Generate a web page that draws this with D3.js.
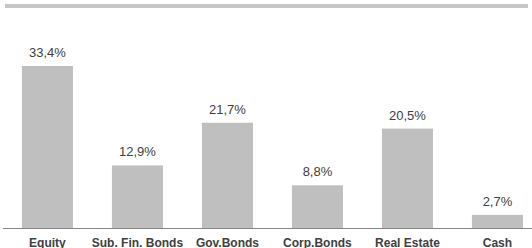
<!DOCTYPE html>
<html>
<head>
<meta charset="utf-8">
<script src="https://cdn.jsdelivr.net/npm/d3@7"></script>
<style>
  html, body { margin: 0; padding: 0; background: #fff; }
  svg { display: block; }
</style>
</head>
<body>
<div id="chart"></div>
<script>
var categories = ["Equity", "Sub. Fin. Bonds", "Gov.Bonds", "Corp.Bonds", "Real Estate", "Cash"];
var values = [33.4, 12.9, 21.7, 8.8, 20.5, 2.7];
var valueLabels = ["33,4%", "12,9%", "21,7%", "8,8%", "20,5%", "2,7%"];

var width = 532, height = 248;
var baseY = 228;

var svg = d3.select("#chart").append("svg")
  .attr("width", width)
  .attr("height", height);

// grey rule at the top
svg.append("rect")
  .attr("x", 5).attr("y", 4)
  .attr("width", 523).attr("height", 4)
  .attr("fill", "#c6c6c6");

var x = d3.scaleBand()
  .domain(categories)
  .range([3, 528])
  .paddingInner(0.433)
  .paddingOuter(0.133)
  .align(0.79);

var y = d3.scaleLinear()
  .domain([0, 40])
  .range([baseY, baseY - 194]);

var data = categories.map(function(c, i) { return {cat: c, value: values[i], label: valueLabels[i]}; });

svg.selectAll(".bar")
  .data(data)
  .enter().append("rect")
  .attr("class", "bar")
  .attr("x", function(d) { return x(d.cat); })
  .attr("width", x.bandwidth())
  .attr("y", function(d) { return y(d.value); })
  .attr("height", function(d) { return baseY - y(d.value); })
  .attr("fill", "#bfbfbf");

svg.selectAll(".val")
  .data(data)
  .enter().append("text")
  .attr("class", "val")
  .attr("x", function(d) { return x(d.cat) + x.bandwidth() / 2; })
  .attr("y", function(d) { return y(d.value) - 9; })
  .attr("text-anchor", "middle")
  .style("font-family", "'Liberation Sans', Arial, sans-serif")
  .style("font-size", "13px")
  .style("fill", "#404040")
  .text(function(d) { return d.label; });

// x axis
var xAxis = svg.append("g")
  .attr("transform", "translate(0," + baseY + ")")
  .call(d3.axisBottom(x).tickSize(0).tickPadding(10));
xAxis.select(".domain")
  .attr("d", "M3,0.5H532")
  .attr("stroke", "#868686");
xAxis.selectAll("text")
  .attr("dy", "0.71em")
  .style("font-family", "'Liberation Sans', Arial, sans-serif")
  .style("font-size", "12px")
  .style("font-weight", "bold")
  .style("fill", "#404040");
</script>
</body>
</html>
